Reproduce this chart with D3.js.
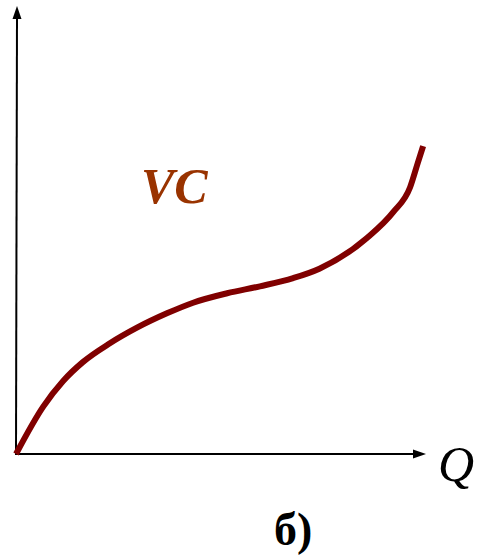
<!DOCTYPE html>
<html>
<head>
<meta charset="utf-8">
<script src="https://cdn.jsdelivr.net/npm/d3@7"></script>
<style>
  html, body { margin: 0; padding: 0; background: #fff; }
  svg { display: block; }
</style>
</head>
<body>
<svg id="chart" width="477" height="555"></svg>
<script>
// curve (arbitrary units)
const qValues = [0, 0.66, 1.15, 1.63, 2.29, 2.95, 3.68, 4.32, 5.15, 5.95, 6.76, 7.4, 8.56, 9.2, 9.61, 9.8, 9.93]
const vcValues = [0, 1.15, 1.78, 2.24, 2.7, 3.08, 3.43, 3.69, 3.92, 4.09, 4.29, 4.52, 5.27, 5.9, 6.5, 7.1, 7.51]
const curveLabel = 'VC'
const xLabel = 'Q'
const caption = 'б)'

const svg = d3.select('#chart')

const x = d3.scaleLinear().domain([0, 10]).range([16, 426])
const y = d3.scaleLinear().domain([0, 10]).range([454, 44])

// axes
svg.append('line')
  .attr('x1', x(0)).attr('y1', y(0))
  .attr('x2', 17).attr('y2', 16)
  .attr('stroke', '#000').attr('stroke-width', 2)
svg.append('path')
  .attr('d', 'M17,6 L12.5,19 L21.5,19 Z')
  .attr('fill', '#000')

svg.append('line')
  .attr('x1', x(0) - 1).attr('y1', y(0))
  .attr('x2', 416).attr('y2', y(0))
  .attr('stroke', '#000').attr('stroke-width', 2)
svg.append('path')
  .attr('d', `M426,${y(0)} L413,${y(0) - 4.5} L413,${y(0) + 4.5} Z`)
  .attr('fill', '#000')

// VC curve
const line = d3.line()
  .x((d, i) => x(qValues[i]))
  .y(d => y(d))
  .curve(d3.curveMonotoneX)

svg.append('path')
  .datum(vcValues)
  .attr('d', line)
  .attr('fill', 'none')
  .attr('stroke', '#800000')
  .attr('stroke-width', 6)

// labels
svg.append('text')
  .attr('x', 141).attr('y', 203)
  .style('font-family', '"Liberation Serif", "Times New Roman", serif')
  .style('font-size', '50px')
  .style('font-weight', 'bold')
  .style('font-style', 'italic')
  .attr('fill', '#993300')
  .text(curveLabel)

svg.append('text')
  .attr('x', 438).attr('y', 481)
  .style('font-family', '"Liberation Serif", "Times New Roman", serif')
  .style('font-size', '50px')
  .style('font-style', 'italic')
  .attr('fill', '#000')
  .text(xLabel)

svg.append('text')
  .attr('x', 274).attr('y', 545)
  .style('font-family', '"Liberation Serif", "Times New Roman", serif')
  .style('font-size', '46px')
  .style('font-weight', 'bold')
  .attr('fill', '#000')
  .text(caption)
</script>
</body>
</html>
